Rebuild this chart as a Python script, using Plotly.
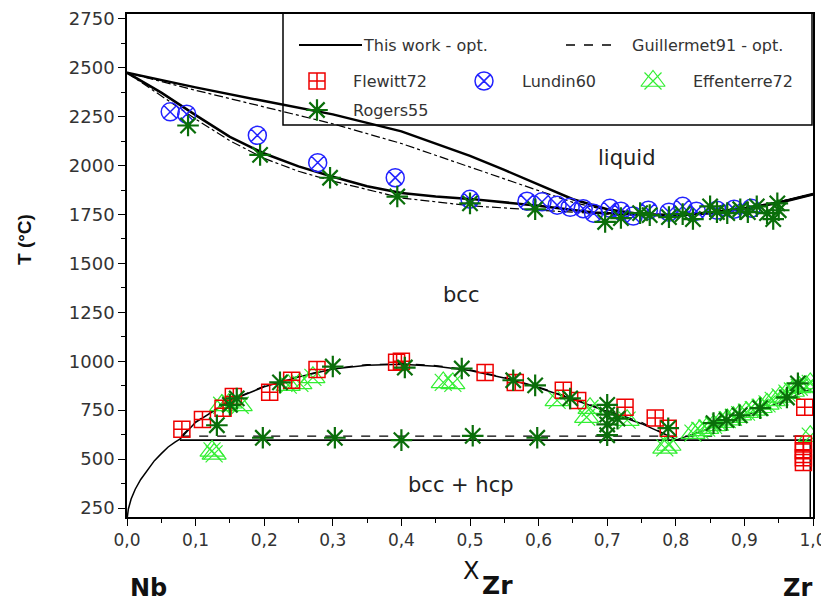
import plotly.graph_objects as go

# ---------------- data ----------------
# "This work - opt." calculated phase boundaries
liq_x = [0.0, 0.1, 0.2, 0.3, 0.4, 0.5, 0.55, 0.6, 0.65, 0.7, 0.75, 0.8, 0.85, 0.9, 0.95, 1.0]
liq_T = [2475, 2400, 2330, 2262, 2175, 2050, 1978, 1903, 1828, 1777, 1752, 1747, 1760, 1782, 1812, 1855]
sol_x = [0.0, 0.05, 0.1, 0.15, 0.2, 0.25, 0.3, 0.35, 0.4, 0.45, 0.5, 0.57, 0.6, 0.68, 0.75, 0.8, 0.85, 0.9, 0.95, 1.0]
sol_T = [2475, 2373, 2258, 2147, 2062, 1996, 1943, 1895, 1860, 1842, 1830, 1805, 1795, 1760, 1749, 1745, 1757, 1779, 1809, 1853]
dome_x = [0.077, 0.1, 0.15, 0.2, 0.25, 0.3, 0.35, 0.4, 0.45, 0.5, 0.55, 0.6, 0.65, 0.7, 0.75, 0.8]
dome_T = [602, 688, 798, 870, 920, 960, 980, 985, 975, 953, 915, 865, 806, 743, 681, 602]
solv_x = [0.0005, 0.002, 0.006, 0.012, 0.02, 0.03, 0.04, 0.05, 0.06, 0.07, 0.077]
solv_T = [204, 245, 296, 346, 396, 447, 492, 528, 562, 587, 602]
mono_x = [0.077, 0.997]
mono_T = [597, 597]
hcp_x = [0.996, 0.996]
hcp_T = [597, 204]
bz_x = [0.8, 0.85, 0.9, 0.95, 1.0]
bz_T = [597, 658, 720, 788, 863]

# "Guillermet91 - opt."
g_liq_x = [0.0, 0.1, 0.2, 0.3, 0.4, 0.5, 0.6, 0.65, 0.7, 0.75, 0.8, 0.9, 1.0]
g_liq_T = [2475, 2385, 2300, 2214, 2113, 1993, 1872, 1812, 1772, 1750, 1743, 1775, 1855]
g_sol_x = [0.0, 0.05, 0.1, 0.15, 0.2, 0.25, 0.3, 0.4, 0.5, 0.6, 0.7, 0.8, 0.9, 1.0]
g_sol_T = [2475, 2358, 2238, 2127, 2037, 1971, 1921, 1835, 1795, 1772, 1752, 1742, 1775, 1855]
g_dome_x = [0.079, 0.1, 0.15, 0.2, 0.25, 0.3, 0.35, 0.4, 0.45, 0.5, 0.55, 0.6, 0.65, 0.7, 0.75, 0.79]
g_dome_T = [617, 690, 800, 873, 923, 963, 983, 988, 978, 956, 918, 868, 810, 748, 688, 617]
g_mono_x = [0.079, 0.997]
g_mono_T = [617, 617]

# experimental data
flewitt_x = [0.080, 0.110, 0.140, 0.155, 0.208, 0.240, 0.277, 0.393, 0.400, 0.522, 0.566, 0.636,
             0.657, 0.726, 0.770, 0.789, 0.988, 0.986, 0.986, 0.986, 0.986]
flewitt_T = [652, 702, 760, 820, 842, 903, 958, 995, 1000, 943, 892, 852,
             800, 765, 710, 658, 765, 577, 542, 507, 482]

lundin_x = [0.063, 0.087, 0.190, 0.278, 0.391, 0.500, 0.583, 0.605, 0.627, 0.646, 0.665, 0.680,
            0.704, 0.720, 0.738, 0.760, 0.790, 0.810, 0.830, 0.860, 0.885, 0.910]
lundin_T = [2275, 2263, 2155, 2015, 1938, 1828, 1818, 1815, 1798, 1787, 1780, 1757,
            1782, 1767, 1742, 1772, 1762, 1792, 1767, 1772, 1777, 1782]

effenterre_x = [0.124, 0.127, 0.138, 0.150, 0.165, 0.235, 0.252, 0.271, 0.461, 0.475, 0.627, 0.670,
                0.675, 0.729, 0.784, 0.790, 0.825, 0.835, 0.845, 0.855, 0.865, 0.875, 0.884, 0.893,
                0.903, 0.913, 0.923, 0.933, 0.942, 0.952, 0.962, 0.970, 0.980, 0.990, 0.996, 0.996]
effenterre_T = [542, 527, 775, 788, 775, 878, 887, 918, 892, 887, 800, 714,
                760, 699, 557, 572, 633, 647, 658, 672, 689, 702, 714, 727,
                740, 752, 765, 782, 800, 818, 837, 848, 867, 873, 887, 617]

rogers_x = [0.089, 0.194, 0.296, 0.394, 0.500, 0.595, 0.697, 0.720, 0.748, 0.762, 0.790, 0.810,
            0.825, 0.850, 0.860, 0.875, 0.894, 0.905, 0.918, 0.933, 0.942, 0.948, 0.950,
            0.131, 0.150, 0.160, 0.223, 0.300, 0.405, 0.488, 0.563, 0.595, 0.646, 0.700, 0.700,
            0.700, 0.715, 0.789, 0.855, 0.874, 0.893, 0.923, 0.962, 0.978,
            0.198, 0.303, 0.400, 0.504, 0.598, 0.700]
rogers_T = [2205, 2055, 1938, 1842, 1807, 1777, 1712, 1732, 1757, 1747, 1737, 1752,
            1727, 1792, 1762, 1757, 1777, 1762, 1792, 1757, 1727, 1807, 1772,
            673, 777, 810, 892, 973, 968, 963, 903, 877, 810, 777, 727,
            677, 707, 658, 684, 699, 724, 760, 815, 887,
            609, 609, 597, 619, 609, 622]

x_ticks = [0.0, 0.1, 0.2, 0.3, 0.4, 0.5, 0.6, 0.7, 0.8, 0.9, 1.0]
x_tick_text = ["0,0", "0,1", "0,2", "0,3", "0,4", "0,5", "0,6", "0,7", "0,8", "0,9", "1,0"]
y_ticks = [250, 500, 750, 1000, 1250, 1500, 1750, 2000, 2250, 2500, 2750]

# ---------------- figure ----------------
FONT = "DejaVu Sans, sans-serif"
FONT_B = "Liberation Sans, Arial, sans-serif"
OFF = 8                        # default page body margin
PAGE_W, PAGE_H = 829, 607
L, R, T, B = 127, 813, 14, 517  # plot area in page pixels
W, H = PAGE_W - OFF, PAGE_H - OFF
PW, PH = R - L, B - T


def px(xp):  # page pixel x -> paper x
    return (xp - L) / PW


def py(yp):  # page pixel y -> paper y
    return (B - yp) / PH


fig = go.Figure()


def line(x, y, width, dash="solid"):
    fig.add_trace(go.Scatter(x=x, y=y, mode="lines", showlegend=False, hoverinfo="skip",
                             line=dict(color="black", width=width, dash=dash)))


# This work
line(liq_x, liq_T, 2.5)
line(sol_x, sol_T, 2.5)
line(dome_x, dome_T, 1.5)
line(solv_x, solv_T, 1.5)
line(mono_x, mono_T, 1.8)
line(hcp_x, hcp_T, 1.5)
line(bz_x, bz_T, 1.2)
# Guillermet91
line(g_mono_x, g_mono_T, 1.3, dash="dash")
line(g_liq_x, g_liq_T, 1.2, dash="dashdot")
line(g_sol_x, g_sol_T, 1.2, dash="dashdot")
line(g_dome_x, g_dome_T, 1.2, dash="dash")

# marker styles
LIME, RED, BLUE, DGREEN = "#33ee33", "#ee0000", "#2222ff", "#0a6e0a"
sty_eff_a = dict(symbol="triangle-up-open", size=21, color=LIME, line=dict(width=1.2, color=LIME))
sty_eff_b = dict(symbol="x-thin-open", size=17, color=LIME, line=dict(width=1.2, color=LIME))
sty_fle = dict(symbol="square-cross-open", size=16, color=RED, line=dict(width=1.5, color=RED))
sty_lun = dict(symbol="circle-x-open", size=18, color=BLUE, line=dict(width=1.5, color=BLUE))
sty_rog = dict(symbol="asterisk-open", size=18, color=DGREEN, line=dict(width=2.2, color=DGREEN))

fig.add_trace(go.Scatter(x=effenterre_x, y=effenterre_T, mode="markers", name="Effenterre72",
                         showlegend=False, marker=sty_eff_a))
fig.add_trace(go.Scatter(x=effenterre_x, y=effenterre_T, mode="markers", name="Effenterre72",
                         showlegend=False, marker=sty_eff_b))
fig.add_trace(go.Scatter(x=flewitt_x, y=flewitt_T, mode="markers", name="Flewitt72",
                         showlegend=False, marker=sty_fle))
fig.add_trace(go.Scatter(x=lundin_x, y=lundin_T, mode="markers", name="Lundin60",
                         showlegend=False, marker=sty_lun))
fig.add_trace(go.Scatter(x=rogers_x, y=rogers_T, mode="markers", name="Rogers55",
                         showlegend=False, marker=sty_rog))

# ---------------- legend (drawn manually to match the original layout) ----------------
LEG_FONT = dict(family=FONT, size=16, color="#333")
LEG_ROWS = [45, 81, 110]
leg_markers = [
    ("Flewitt72", [sty_fle], 317, LEG_ROWS[1], 351),
    ("Lundin60", [sty_lun], 484, LEG_ROWS[1], 520),
    ("Effenterre72", [sty_eff_a, sty_eff_b], 653, LEG_ROWS[1], 691),
    ("Rogers55", [sty_rog], 317, LEG_ROWS[2], 351),
]
for name, styles, mx, my, tx in leg_markers:
    for st in styles:
        fig.add_trace(go.Scatter(x=[px(mx)], y=[py(my)], xaxis="x2", yaxis="y2", mode="markers",
                                 marker=st, showlegend=False, hoverinfo="skip", cliponaxis=False))
    fig.add_annotation(xref="paper", yref="paper", x=px(tx), y=py(my), text=name, showarrow=False,
                       xanchor="left", yanchor="middle", font=LEG_FONT)

fig.add_shape(type="line", xref="paper", yref="paper", x0=px(299), x1=px(362),
              y0=py(LEG_ROWS[0]), y1=py(LEG_ROWS[0]), line=dict(color="black", width=1.8))
fig.add_annotation(xref="paper", yref="paper", x=px(361), y=py(LEG_ROWS[0]), text="This work - opt.",
                   showarrow=False, xanchor="left", yanchor="middle", font=LEG_FONT)
fig.add_shape(type="line", xref="paper", yref="paper", x0=px(566), x1=px(620),
              y0=py(LEG_ROWS[0]), y1=py(LEG_ROWS[0]), line=dict(color="black", width=1.5, dash="dash"))
fig.add_annotation(xref="paper", yref="paper", x=px(630), y=py(LEG_ROWS[0]), text="Guillermet91 - opt.",
                   showarrow=False, xanchor="left", yanchor="middle", font=LEG_FONT)
fig.add_shape(type="rect", xref="paper", yref="paper", x0=px(283), x1=px(812), y0=py(125), y1=py(13),
              line=dict(color="black", width=1.5), fillcolor="rgba(0,0,0,0)", layer="above")

fig.update_layout(
    width=W, height=H,
    margin=dict(l=L - OFF, r=PAGE_W - R, t=T - OFF, b=PAGE_H - B, autoexpand=False),
    paper_bgcolor="white", plot_bgcolor="white",
    font=dict(family=FONT, size=16, color="#333"),
    showlegend=False,
    xaxis=dict(range=[0, 1.0], tickvals=x_ticks, ticktext=x_tick_text, showgrid=False,
               zeroline=False, showline=True, linecolor="black", linewidth=1.5, mirror=True,
               ticks="outside", ticklen=7, tickwidth=1.2, tickcolor="black",
               minor=dict(dtick=0.05, ticks="outside", ticklen=4, tickcolor="black", showgrid=False),
               tickfont=dict(family=FONT, size=17, color="#333"), ticklabeloverflow="allow"),
    yaxis=dict(range=[204, 2775], tickvals=y_ticks, showgrid=False, zeroline=False,
               showline=True, linecolor="black", linewidth=1.5, mirror=True,
               ticks="outside", ticklen=7, tickwidth=1.2, tickcolor="black",
               minor=dict(dtick=125, tick0=0, ticks="outside", ticklen=4, tickcolor="black", showgrid=False),
               tickfont=dict(family=FONT, size=18, color="#333"), ticklabeloverflow="allow"),
    xaxis2=dict(overlaying="x", range=[0, 1], visible=False, fixedrange=True),
    yaxis2=dict(overlaying="y", range=[0, 1], visible=False, fixedrange=True),
)

# region labels
for txt, xx, yy in [("liquid", 0.728, 2040), ("bcc", 0.487, 1340), ("bcc + hcp", 0.487, 368)]:
    fig.add_annotation(x=xx, y=yy, text=txt, showarrow=False, xanchor="center", yanchor="middle",
                       font=dict(family=FONT, size=21, color="#222"))

# axis titles
fig.add_annotation(xref="paper", yref="paper", x=px(25), y=py(240), text="<b>T (°C)</b>", textangle=-90,
                   showarrow=False, xanchor="center", yanchor="middle",
                   font=dict(family=FONT_B, size=19, color="#111"))
fig.add_annotation(xref="paper", yref="paper", x=px(471), y=py(571), text="X",
                   showarrow=False, xanchor="center", yanchor="middle",
                   font=dict(family=FONT, size=24, color="#111"))
fig.add_annotation(xref="paper", yref="paper", x=px(480), y=py(585), text="<b>Zr</b>",
                   showarrow=False, xanchor="left", yanchor="middle",
                   font=dict(family=FONT, size=25, color="#111"))
fig.add_annotation(xref="paper", yref="paper", x=px(148), y=py(588), text="<b>Nb</b>",
                   showarrow=False, xanchor="center", yanchor="middle",
                   font=dict(family=FONT, size=24, color="#111"))
fig.add_annotation(xref="paper", yref="paper", x=px(797), y=py(588), text="<b>Zr</b>",
                   showarrow=False, xanchor="center", yanchor="middle",
                   font=dict(family=FONT, size=24, color="#111"))

fig.write_html("out.html")
